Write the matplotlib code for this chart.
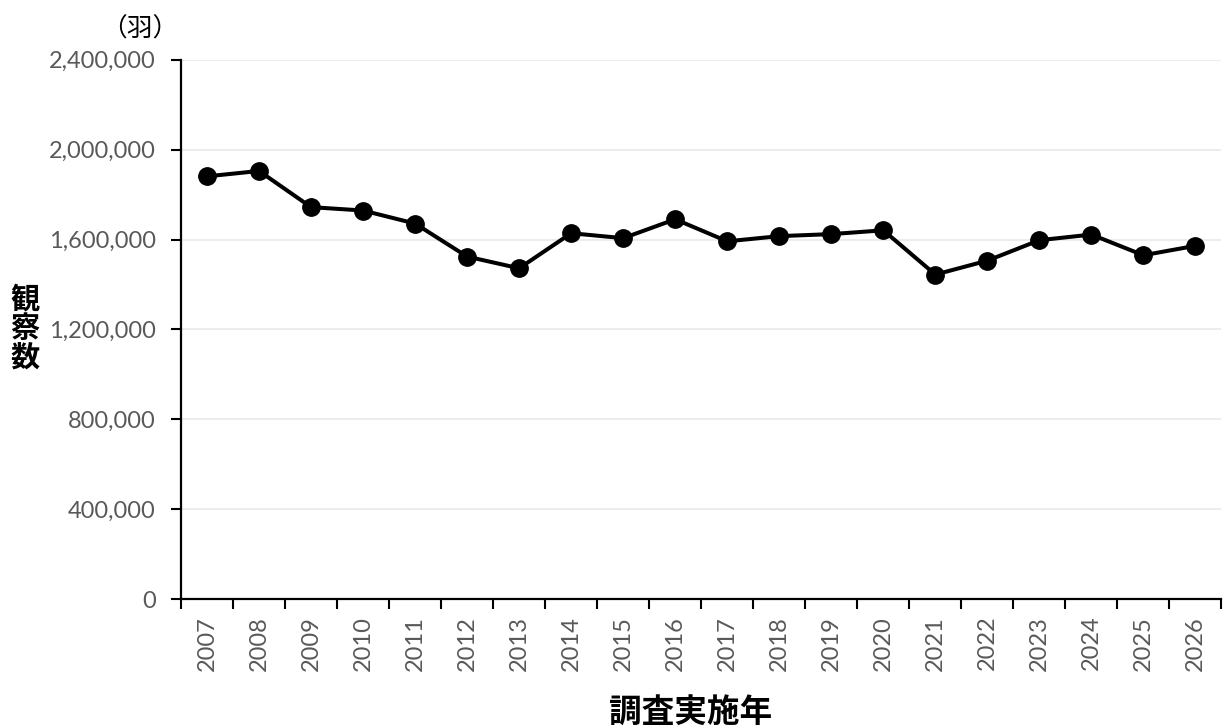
import matplotlib
matplotlib.use("Agg")
import matplotlib.pyplot as plt
from matplotlib.ticker import FuncFormatter, MultipleLocator

plt.rcParams['font.family'] = ['Noto Sans CJK JP', 'DejaVu Sans']

# survey years and observed counts (birds)
years = [str(y) for y in range(2007, 2027)]
counts = [1881000, 1905000, 1744000, 1729000, 1671000, 1524000, 1472000,
          1628000, 1606000, 1690000, 1592000, 1615000, 1624000, 1641000,
          1444000, 1506000, 1597000, 1622000, 1530000, 1572000]

fig = plt.figure(figsize=(12.27, 7.28), dpi=100)
ax = fig.add_axes([0.1475, 0.177, 0.848, 0.741])

x = list(range(len(years)))
ax.plot(x, counts, color='black', linewidth=2.9, marker='o', markersize=12.5,
        solid_joinstyle='round', zorder=3)

ax.set_xlim(-0.5, len(years) - 0.5)
ax.set_ylim(0, 2400000)
ax.yaxis.set_major_locator(MultipleLocator(400000))
ax.yaxis.set_major_formatter(FuncFormatter(lambda v, p: f"{int(v):,}"))
ax.grid(axis='y', color='#ebebeb', linewidth=1.3, zorder=0)

# category labels without ticks; tick marks on category boundaries
ax.set_xticks(x)
ax.set_xticklabels(years, rotation=90)
ax.set_xticks([i - 0.5 for i in range(len(years) + 1)], minor=True)
ax.tick_params(axis='x', which='major', length=0, pad=12, labelsize=17,
               labelcolor='#595959')
ax.tick_params(axis='x', which='minor', length=7, width=1.5, color='black')
ax.tick_params(axis='y', length=7, width=1.5, color='black', pad=11,
               labelsize=17, labelcolor='#595959')
for lab in ax.get_xticklabels() + ax.get_yticklabels():
    lab.set_fontfamily('Lato')

for s in ['top', 'right']:
    ax.spines[s].set_visible(False)
for s in ['left', 'bottom']:
    ax.spines[s].set_linewidth(1.6)
    ax.spines[s].set_color('black')

fig.text(0.114, 0.959, '（羽）', ha='center', va='center', fontsize=18.5)
fig.text(0.020, 0.549, '観\n察\n数', ha='center', va='center', fontsize=21,
         fontweight='bold', linespacing=0.95)
fig.text(0.563, 0.022, '調査実施年', ha='center', va='center', fontsize=23.5,
         fontweight='bold')

fig.savefig('out.png', dpi=100)
